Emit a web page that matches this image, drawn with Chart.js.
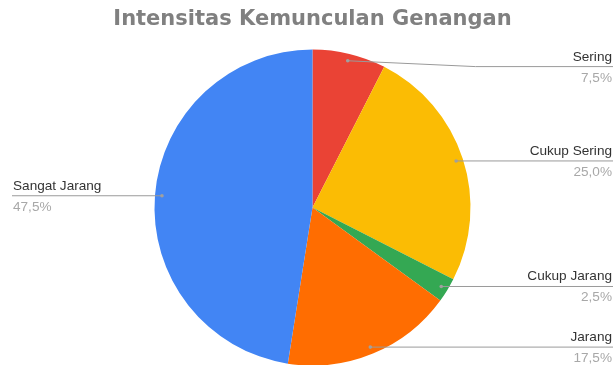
<!DOCTYPE html>
<html>
<head>
<meta charset="utf-8">
<script src="https://cdn.jsdelivr.net/npm/chart.js@4.4.0/dist/chart.umd.min.js"></script>
<style>
  body { margin: 0; background: #fff; overflow: hidden; }
</style>
</head>
<body>
<canvas id="myChart" width="616" height="365"></canvas>
<script>
// categories and shares (percent)
const categories = ["Sering", "Cukup Sering", "Cukup Jarang", "Jarang", "Sangat Jarang"];
const shares = [7.5, 25.0, 2.5, 17.5, 47.5];
const sliceColors = ["#EA4335", "#FBBC04", "#34A853", "#FF6D01", "#4285F4"];

const fontFamily = "'Liberation Sans', Arial, sans-serif";

// leader lines with name above and percent below
const sideLabels = {
  id: "sideLabels",
  afterDatasetsDraw(chart) {
    const ctx = chart.ctx;
    const meta = chart.getDatasetMeta(0);
    ctx.save();
    meta.data.forEach((arc, i) => {
      const mid = (arc.startAngle + arc.endAngle) / 2;
      const r = arc.outerRadius;
      const dx = arc.x + Math.cos(mid) * (r - 7);
      const dy = arc.y + Math.sin(mid) * (r - 7);
      const right = Math.cos(mid) > 0;
      const lineY = Math.max(dy, arc.y - r + 17);
      const endX = right ? 613 : 12;
      const elbowX = right ? arc.x + r + 5 : arc.x - r - 5;

      ctx.strokeStyle = "#9a9a9a";
      ctx.lineWidth = 1;
      ctx.beginPath();
      ctx.moveTo(dx, dy);
      if (Math.abs(lineY - dy) > 1) ctx.lineTo(elbowX, lineY);
      ctx.lineTo(endX, lineY);
      ctx.stroke();

      ctx.fillStyle = "#a0a0a0";
      ctx.beginPath();
      ctx.arc(dx, dy, 1.8, 0, Math.PI * 2);
      ctx.fill();

      const tx = right ? 612 : 13;
      ctx.textAlign = right ? "right" : "left";
      ctx.font = "13.6px " + fontFamily;
      ctx.textBaseline = "alphabetic";
      ctx.fillStyle = "#333333";
      ctx.fillText(categories[i], tx, lineY - 6);
      ctx.fillStyle = "#a8a8a8";
      ctx.fillText(shares[i].toFixed(1).replace(".", ",") + "%", tx, lineY + 15);
    });
    ctx.restore();
  },
};

const ctx = document.getElementById("myChart").getContext("2d");
const myChart = new Chart(ctx, {
  type: "pie",
  data: {
    labels: categories,
    datasets: [
      {
        data: shares,
        backgroundColor: sliceColors,
        borderWidth: 0,
      },
    ],
  },
  options: {
    responsive: false,
    animation: false,
    radius: 158,
    layout: { padding: { left: 9, right: 0, top: 0, bottom: 0 } },
    plugins: {
      legend: { display: false },
      tooltip: { enabled: false },
      title: {
        display: true,
        text: "Intensitas Kemunculan Genangan",
        color: "#808080",
        font: { family: "'DejaVu Sans', sans-serif", size: 21, weight: "bold" },
        padding: { top: 7, bottom: 18 },
      },
    },
  },
  plugins: [sideLabels],
});
</script>
</body>
</html>
